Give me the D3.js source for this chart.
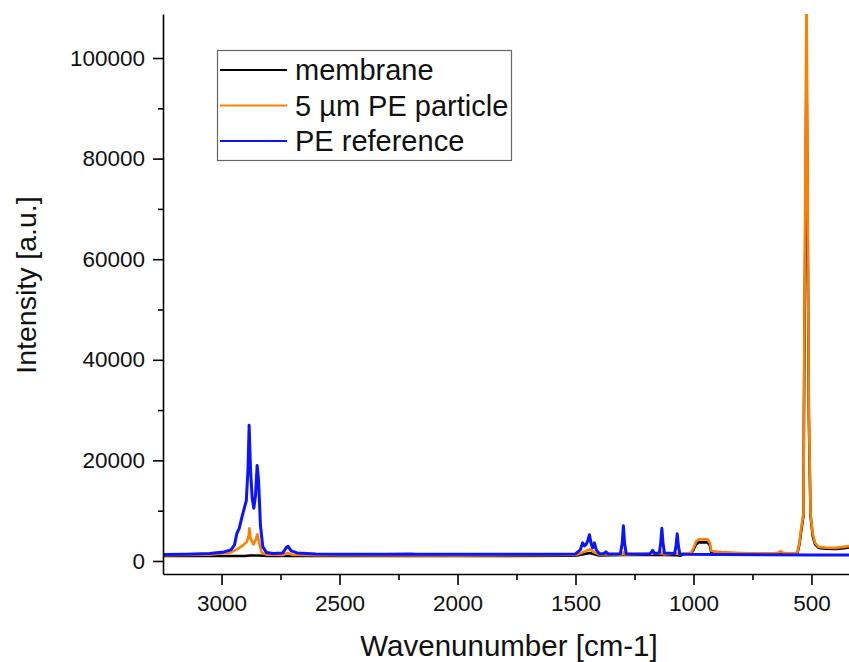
<!DOCTYPE html>
<html>
<head>
<meta charset="utf-8">
<script src="https://cdn.jsdelivr.net/npm/d3@7"></script>
<style>
  body { margin: 0; background: #fff; }
  svg { display: block; font-family: "Liberation Sans", Arial, sans-serif; }
</style>
</head>
<body>
<svg id="chart"></svg>
<script>
const width = 849;
const height = 662;
const margins = { top: 14, right: 0, bottom: 88, left: 163 };

// series names and colours
const seriesNames = ["membrane", "5 µm PE particle", "PE reference"];
const seriesColors = ["#000000", "#ff8000", "#0a14ff"];

// [wavenumber, intensity]
const membrane = [
  [3248, 1000], [2900, 1000], [2880, 1100], [2848, 1100], [2800, 1000],
  [2000, 1000], [1500, 1050], [1440, 1600], [1400, 1100], [1296, 1200],
  [1134, 1200], [1069, 1150], [1057, 1050], [1040, 1400], [1010, 1500],
  [1000, 2200], [990, 3300], [977, 3700], [940, 3700], [930, 3000],
  [925, 1800], [910, 1650], [880, 1600], [800, 1500], [720, 1400],
  [640, 1500], [630, 1800], [622, 1500], [570, 1450], [560, 1500],
  [551, 3300], [545, 5500], [534, 9000], [532, 28000], [521, 100000],
  [511, 28000], [504, 9000], [495, 5000], [485, 3300], [470, 2600],
  [440, 2450], [400, 2400], [370, 2500], [341, 2700]
];

const particle = [
  [3248, 1150], [3050, 1250], [2960, 1700], [2935, 2300], [2912, 3000],
  [2893, 3800], [2885, 5000], [2882, 6500], [2877, 4500], [2865, 3300],
  [2855, 4200], [2848, 5300], [2840, 3500], [2830, 1700], [2810, 1250],
  [2740, 1200], [2720, 1600], [2700, 1250], [2600, 1150], [2000, 1100],
  [1500, 1200], [1470, 1700], [1440, 2300], [1420, 1700], [1400, 1300],
  [1300, 1300], [1296, 1700], [1290, 1300], [1134, 1500], [1130, 1800],
  [1125, 1300], [1069, 1500], [1060, 1300], [1040, 1500], [1010, 1650],
  [1000, 2500], [990, 3800], [977, 4300], [940, 4300], [930, 3500],
  [925, 2100], [910, 1850], [880, 1750], [800, 1600], [720, 1500],
  [660, 1550], [640, 1650], [630, 1950], [622, 1650], [600, 1550],
  [570, 1600], [560, 1650], [551, 3600], [545, 6000], [534, 9500],
  [532, 29500], [521, 115000], [511, 29500], [504, 9500], [495, 5500],
  [485, 3600], [470, 2800], [440, 2650], [400, 2600], [370, 2750],
  [341, 2950]
];

const reference = [
  [3248, 1300], [3150, 1350], [3050, 1500], [2990, 1800], [2960, 2200],
  [2945, 3200], [2935, 5500], [2925, 6500], [2912, 9000], [2895, 12000],
  [2888, 18000], [2883, 27000], [2877, 18000], [2870, 12500], [2863, 10500],
  [2856, 13000], [2849, 19000], [2843, 16000], [2835, 7000], [2825, 2800],
  [2810, 1700], [2780, 1500], [2740, 1600], [2725, 2700], [2718, 2900],
  [2705, 2000], [2680, 1600], [2640, 1500], [2600, 1400], [2500, 1350],
  [2300, 1330], [2200, 1400], [2180, 1350], [2000, 1320], [1800, 1330],
  [1600, 1350], [1500, 1400], [1480, 2200], [1470, 3600], [1462, 3000],
  [1456, 3200], [1448, 4000], [1441, 5200], [1434, 3500], [1428, 2600],
  [1420, 3600], [1412, 2200], [1400, 1500], [1380, 1450], [1371, 1800],
  [1362, 1400], [1310, 1450], [1302, 3500], [1297, 7000], [1292, 3500],
  [1285, 1450], [1185, 1400], [1173, 2100], [1165, 1500], [1145, 1600],
  [1139, 3500], [1134, 6500], [1129, 3500], [1123, 1600], [1080, 1500],
  [1074, 3000], [1069, 5400], [1064, 3000], [1058, 1400], [1040, 1350],
  [900, 1300], [700, 1250], [500, 1200], [341, 1200]
];

const xTicks = [3000, 2500, 2000, 1500, 1000, 500];
const xMinorTicks = [2750, 2250, 1750, 1250, 750];
const yTicks = [0, 20000, 40000, 60000, 80000, 100000];
const yMinorTicks = [10000, 30000, 50000, 70000, 90000];

const xDomain = [3248, 341];
const yDomain = [-2590, 108750];

const svg = d3.select("#chart").attr("width", width).attr("height", height);

const x = d3.scaleLinear().domain(xDomain).range([margins.left, width - margins.right]);
const y = d3.scaleLinear().domain(yDomain).range([height - margins.bottom, margins.top]);

svg.append("clipPath").attr("id", "plotClip")
  .append("rect")
  .attr("x", margins.left)
  .attr("y", margins.top)
  .attr("width", width - margins.left - margins.right)
  .attr("height", height - margins.top - margins.bottom);

const line = d3.line().x((d) => x(d[0])).y((d) => y(d[1]));

const allSeries = [membrane, particle, reference];
const widths = [2.6, 2.6, 3];

svg.append("g")
  .attr("clip-path", "url(#plotClip)")
  .selectAll("path")
  .data(allSeries)
  .join("path")
  .attr("d", line)
  .attr("fill", "none")
  .attr("stroke", (d, i) => seriesColors[i])
  .attr("stroke-width", (d, i) => widths[i])
  .attr("stroke-linejoin", "round");

// axes
const xAxisY = height - margins.bottom;

const xAxis = svg.append("g")
  .attr("transform", `translate(0, ${xAxisY})`)
  .call(d3.axisBottom(x).tickValues(xTicks).tickSize(11).tickSizeOuter(0).tickPadding(10).tickFormat(d3.format("d")));
xAxis.selectAll("text").attr("font-size", "22.5px").attr("fill", "#111").attr("font-family", "Liberation Sans, Arial, sans-serif");

svg.append("g")
  .attr("transform", `translate(0, ${xAxisY})`)
  .call(d3.axisBottom(x).tickValues(xMinorTicks).tickSize(6).tickSizeOuter(0).tickFormat(""))
  .select(".domain").remove();

const yAxis = svg.append("g")
  .attr("transform", `translate(${margins.left}, 0)`)
  .call(d3.axisLeft(y).tickValues(yTicks).tickSize(10).tickSizeOuter(0).tickPadding(8).tickFormat(d3.format("d")));
yAxis.selectAll("text").attr("font-size", "22.5px").attr("fill", "#111").attr("font-family", "Liberation Sans, Arial, sans-serif");

svg.append("g")
  .attr("transform", `translate(${margins.left}, 0)`)
  .call(d3.axisLeft(y).tickValues(yMinorTicks).tickSize(5).tickSizeOuter(0).tickFormat(""))
  .select(".domain").remove();

svg.selectAll(".domain, .tick line").attr("stroke", "#000").attr("stroke-width", 1.6);

// axis titles
svg.append("text")
  .attr("x", 509)
  .attr("y", 656)
  .attr("text-anchor", "middle")
  .attr("font-size", "29.5px")
  .attr("fill", "#111")
  .text("Wavenunumber [cm-1]");

svg.append("text")
  .attr("transform", "translate(36, 285) rotate(-90)")
  .attr("text-anchor", "middle")
  .attr("font-size", "28.5px")
  .attr("fill", "#111")
  .text("Intensity [a.u.]");

// legend
const legend = svg.append("g");
legend.append("rect")
  .attr("x", 217.5)
  .attr("y", 50.5)
  .attr("width", 294)
  .attr("height", 110)
  .attr("fill", "#fff")
  .attr("stroke", "#666")
  .attr("stroke-width", 1.2);

const rows = legend.selectAll("g.row")
  .data(seriesNames)
  .join("g")
  .attr("class", "row")
  .attr("transform", (d, i) => `translate(0, ${70 + i * 35.5})`);

rows.append("line")
  .attr("x1", 220)
  .attr("x2", 287)
  .attr("stroke", (d, i) => seriesColors[i])
  .attr("stroke-width", 2.2);

rows.append("text")
  .attr("x", 295)
  .attr("y", 10)
  .attr("font-size", "29px")
  .attr("fill", "#111")
  .text((d) => d);
</script>
</body>
</html>
